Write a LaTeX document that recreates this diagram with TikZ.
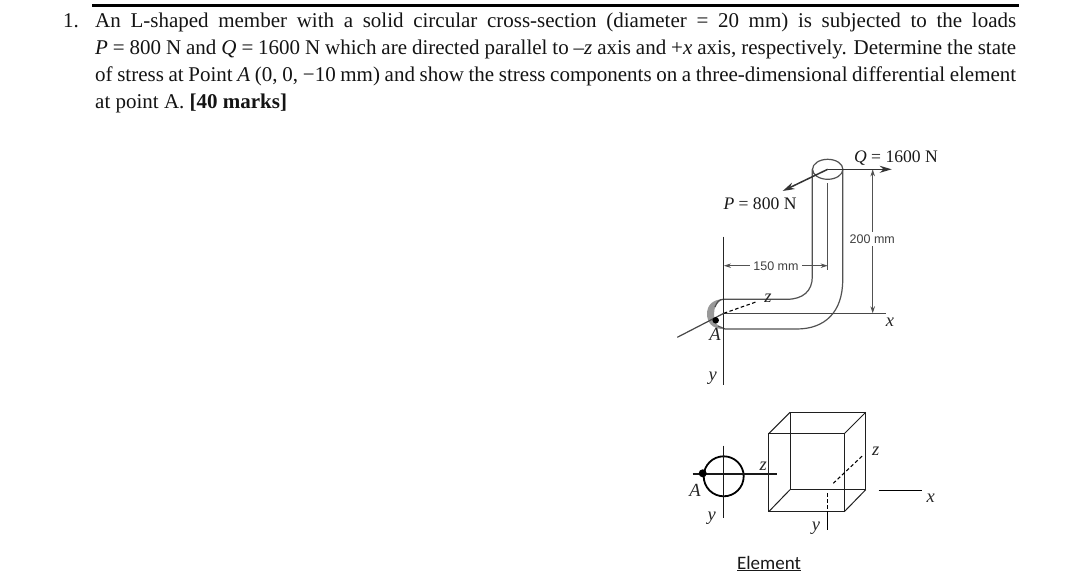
\documentclass[tikz,border=0pt]{standalone}
\usepackage{fontspec}
\setmainfont{Liberation Serif}
\newfontfamily\dimfont{Liberation Sans}
\newfontfamily\capfont{Carlito}
\usetikzlibrary{arrows.meta}
\newcommand{\ttl}[1]{\makebox[921pt][s]{#1}}
\tikzset{
 x=1pt,y=-1pt,
 txtline/.style={anchor=base west,inner sep=0,font=\fontsize{21}{24}\selectfont,text=black!92},
 num/.style={anchor=base east,inner sep=0,font=\fontsize{21}{24}\selectfont,text=black!92},
 lbl/.style={inner sep=0,font=\fontsize{17.6}{20}\selectfont,text=black!90},
 ax/.style={inner sep=0,font=\fontsize{18.5}{20}\selectfont\itshape,text=black!85},
 dimt/.style={inner xsep=3.5pt,inner ysep=1pt,fill=white,font=\dimfont\fontsize{12.5}{14}\selectfont,text=black!75},
 pipe/.style={draw=black!68,line width=1.2pt},
 dim/.style={draw=black!68,line width=.9pt},
 dimarrow/.style={dim,{Stealth[length=7pt,width=4.5pt]}-{Stealth[length=7pt,width=4.5pt]}},
 force/.style={draw=black!80,line width=1.5pt,-{Stealth[length=12pt,width=7pt]}},
 axis/.style={draw=black!72,line width=1.2pt},
 cube/.style={draw=black!88,line width=1pt},
 dsh/.style={draw=black,line width=1.1pt,dash pattern=on 3.5pt off 2.5pt},
}
\begin{document}
\begin{tikzpicture}
\useasboundingbox (0,0) rectangle (1080,584);
\fill[white] (0,0) rectangle (1080,584);
% heading
\coordinate (ruleL) at (92,5); \coordinate (ruleR) at (1019,5);
\draw[line width=3pt] (ruleL) -- (ruleR);
\node[num] (n1) at (79,27) {1.};
\node[txtline] (l1) at (95,27) {\ttl{An L-shaped member with a solid circular cross-section (diameter = 20 mm) is subjected to the loads}};
\node[txtline] (l2) at (95,54) {\ttl{\textit{P} = 800 N and \textit{Q} = 1600 N which are directed parallel to –\textit{z} axis and +\textit{x} axis, respectively. Determine the state}};
\node[txtline] (l3) at (95,81.5) {\ttl{of stress at Point \textit{A} (0, 0, −10 mm) and show the stress components on a three-dimensional differential element}};
\node[txtline] (l4) at (95,108.5) {at point A. \textbf{[40 marks]}};
% member
\fill[black!40] (723,299.3) .. controls (712,299.3) and (707,306) .. (707,314) .. controls (707,322) and (712,329) .. (723,329) .. controls (716,326) and (714,320) .. (714,314) .. controls (714,307) and (717,302) .. (723,299.3) -- cycle;
\coordinate (top) at (827.7,169.3);
\draw[pipe] (top) ellipse [x radius=15.2pt,y radius=10pt];
\draw[pipe] (812.3,169.3) -- (812.3,276.7) .. controls (812.3,291) and (803,299.3) .. (786.7,299.3) -- (723.3,299.3) .. controls (719,299.3) and (717,302) .. (715,307);
\draw[pipe] (842.7,169.3) -- (842.7,280) .. controls (842.7,312) and (825,329) .. (796.7,329) -- (725,329) -- (718,326);
\draw[pipe] (827.7,183) -- (827.7,270);
% axes
\coordinate (o) at (723.8,313.3);
\coordinate (xe) at (886,313.3);
\coordinate (ys) at (723.8,236.5);
\coordinate (ye) at (723.8,385);
\coordinate (ze) at (756.7,301.7);
\coordinate (zb) at (677.3,337.3);
\draw[axis] (o) -- (xe);
\draw[draw=black!85,line width=1.2pt] (ys) -- (ye);
\draw[dsh] (o) -- (ze);
\draw[axis] (zb) -- (o);
\node[circle,fill=black,minimum size=6.5pt,inner sep=0] (dotA) at (715.7,320.3) {};
\node[ax] (lA) at (715,334) {A};
\node[ax] (lx) at (890,322) {x};
\node[ax] (ly) at (712.7,378) {y};
\node[ax] (lz) at (768,298) {z};
% dimensions
\coordinate (d1) at (724,265.7); \coordinate (d2) at (827.7,265.7);
\draw[dimarrow] (d1) -- (d2);
\node[dimt] (t150) at (776,265.7) {150 mm};
\coordinate (d3) at (872.7,169.3); \coordinate (d4) at (872.7,313.3);
\draw[dimarrow] (d3) -- (d4);
\node[dimt,inner xsep=1pt,inner ysep=2.5pt] (t200) at (872.3,239) {200 mm};
% forces
\coordinate (qe) at (891.7,169.3); \coordinate (pe) at (782.7,191);
\draw[force] (top) -- (qe);
\draw[force] (top) -- (pe);
\node[lbl] (lQ) at (896,158) {\textit{Q} = 1600 N};
\node[lbl] (lP) at (760,203.3) {\textit{P} = 800 N};
% section
\coordinate (c) at (723.7,476.3);
\draw[draw=black,line width=1.8pt] (c) circle [radius=20pt];
\coordinate (h1) at (692.7,474); \coordinate (h2) at (776.7,474);
\coordinate (v1) at (723.7,445.7); \coordinate (v2) at (723.7,518.3);
\draw[draw=black!90,line width=1.3pt] (h1) -- (h2);
\draw[draw=black!90,line width=1.3pt] (v1) -- (v2);
\node[circle,fill=black,minimum size=8pt,inner sep=0] (dotB) at (702.7,473.3) {};
\node[ax] (lA2) at (695,490) {A};
\node[ax] (ly2) at (711.7,518) {y};
\node[ax] (lz2) at (763.3,466.7) {z};
% cube
\coordinate (fa) at (768.7,433.7); \coordinate (fb) at (844.3,433.7);
\coordinate (fc) at (844.3,511.7); \coordinate (fd) at (768.7,511.7);
\coordinate (ba) at (790,412.3); \coordinate (bb) at (865.7,412.3);
\coordinate (bc) at (865.7,489.7); \coordinate (bd) at (790,489.7);
\draw[cube] (fa) -- (fb) -- (fc) -- (fd) -- cycle;
\draw[cube] (ba) -- (bb) -- (bc) -- (bd) -- cycle;
\draw[cube] (fa) -- (ba) (fb) -- (bb) (fc) -- (bc) (fd) -- (bd);
\coordinate (z1) at (833.3,483.3); \coordinate (z2) at (863.3,455);
\draw[dsh] (z1) -- (z2);
\coordinate (x1) at (878.7,490.3); \coordinate (x2) at (922.3,490.3);
\draw[draw=black,line width=1.1pt] (x1) -- (x2);
\coordinate (y1) at (827.7,493.3); \coordinate (y2) at (827.7,511.7); \coordinate (y3) at (827.7,530);
\draw[dsh] (y1) -- (y2);
\draw[draw=black,line width=1.1pt] (y2) -- (y3);
\node[ax] (lz3) at (875.7,451) {z};
\node[ax] (lx3) at (930.7,498.3) {x};
\node[ax] (ly3) at (816,528.3) {y};
\node[inner sep=0,font=\capfont\fontsize{19}{20}\selectfont,text=black!90] (el) at (769,563.5) {\underline{Element}};
\end{tikzpicture}
\end{document}
